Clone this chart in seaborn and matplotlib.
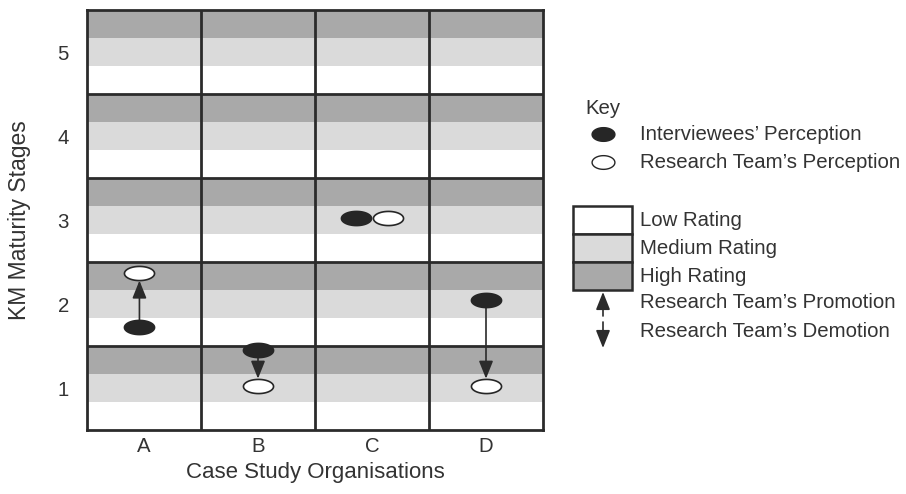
import numpy as np
import pandas as pd
import matplotlib
matplotlib.use("Agg")
import matplotlib.pyplot as plt
from matplotlib.path import Path
from matplotlib.patches import Rectangle
import seaborn as sns

# ---- data ----
organisations = ["A", "B", "C", "D"]
stages = [1, 2, 3, 4, 5]
interviewee_stage = [1.73, 1.45, 3.02, 2.05]
research_stage = [2.37, 1.02, 3.02, 1.02]
rating_levels = ["Low Rating", "Medium Rating", "High Rating"]
rating_colors = ["#ffffff", "#dadada", "#a9a9a9"]

sns.set_theme(style="white")
plt.rcParams["font.family"] = ["Liberation Sans", "DejaVu Sans"]

LINE = "#2b2b2b"
TXT = "#333333"
FS = 14.7

# ellipse marker (wide oval)
t = np.linspace(0, 2 * np.pi, 60)
oval = Path(np.column_stack([np.cos(t), 0.47 * np.sin(t)]), closed=True)
oval_key = Path(np.column_stack([np.cos(t), 0.6 * np.sin(t)]), closed=True)

fig = plt.figure(figsize=(9.06, 4.94), dpi=100)
ax = fig.add_axes([87 / 906, 64 / 494, 456 / 906, 420 / 494])

# background rating bands for every stage
for s in stages:
    for i, col in enumerate(rating_colors):
        lo = s - 0.5 + i / 3
        ax.axhspan(lo, lo + 1 / 3, color=col, lw=0, zorder=0)

# grid lines between stages and organisations
for s in stages[:-1]:
    ax.axhline(s + 0.5, color=LINE, lw=2, zorder=1)
for k in range(len(organisations) - 1):
    ax.axvline(k + 0.5, color=LINE, lw=2, zorder=1)

# point positions (side by side when both ratings agree)
xpos = np.arange(len(organisations), dtype=float)
same = np.isclose(interviewee_stage, research_stage)
x_int = xpos - np.where(same, 0.14, 0.04 * (xpos == 0))
x_res = xpos + np.where(same, 0.14, -0.04 * (xpos == 0))

df = pd.DataFrame({
    "org": organisations,
    "x_int": x_int, "x_res": x_res,
    "interviewee": interviewee_stage, "research": research_stage,
})

# arrows showing promotion / demotion
for _, r in df[~same].iterrows():
    ax.annotate("", xy=(r.x_res, r.research), xytext=(r.x_int, r.interviewee),
                arrowprops=dict(arrowstyle="-|>,head_width=0.36,head_length=0.9",
                                color=LINE, lw=1.2, shrinkA=4.5, shrinkB=5.5),
                zorder=3)

sns.scatterplot(data=df, x="x_int", y="interviewee", marker=oval, s=470,
                color="#262626", edgecolor="#262626", linewidth=1.2, ax=ax, zorder=4)
sns.scatterplot(data=df, x="x_res", y="research", marker=oval, s=470,
                color="white", edgecolor="#262626", linewidth=1.2, ax=ax, zorder=4)

ax.set_xlim(-0.5, len(organisations) - 0.5)
ax.set_ylim(0.5, 5.5)
ax.set_xticks(xpos)
ax.set_xticklabels(organisations)
ax.set_yticks(stages)
ax.tick_params(length=0, labelsize=FS, colors=TXT)
ax.tick_params(axis="x", pad=5)
ax.tick_params(axis="y", pad=13)
ax.set_xlabel("Case Study Organisations", fontsize=16, color=TXT, labelpad=4)
ax.set_ylabel("KM Maturity Stages", fontsize=16.5, color=TXT, labelpad=19)
for sp in ax.spines.values():
    sp.set_visible(True)
    sp.set_color(LINE)
    sp.set_linewidth(2)

# ---- key drawn in a pixel-coordinate axes ----
kx = fig.add_axes([560 / 906, 0, 346 / 906, 1])
kx.set_xlim(560, 906)
kx.set_ylim(494, 0)
kx.axis("off")

kx.text(585, 108, "Key", fontsize=FS, color=TXT, va="center")
kx.scatter([603], [134], marker=oval_key, s=270, color="#262626",
           edgecolor="#262626", lw=1.0)
kx.scatter([603], [162], marker=oval_key, s=270, color="white",
           edgecolor="#262626", lw=1.0)
kx.text(640, 134, "Interviewees\u2019 Perception", fontsize=FS, color=TXT, va="center")
kx.text(640, 162, "Research Team\u2019s Perception", fontsize=FS, color=TXT, va="center")

for i, (lab, col) in enumerate(zip(rating_levels, rating_colors)):
    y0 = 206 + 28 * i
    kx.add_patch(Rectangle((573, y0), 59, 28, facecolor=col, edgecolor=LINE, lw=1.8))
    kx.text(640, y0 + 14, lab, fontsize=FS, color=TXT, va="center")

kx.annotate("", xy=(603, 292), xytext=(603, 316),
            arrowprops=dict(arrowstyle="-|>,head_width=0.36,head_length=0.9",
                            color=LINE, lw=1.2, shrinkA=0, shrinkB=0))
kx.annotate("", xy=(603, 348), xytext=(603, 322),
            arrowprops=dict(arrowstyle="-|>,head_width=0.36,head_length=0.9",
                            color=LINE, lw=1.2, shrinkA=0, shrinkB=0))
kx.text(640, 302, "Research Team\u2019s Promotion", fontsize=FS, color=TXT, va="center")
kx.text(640, 331, "Research Team\u2019s Demotion", fontsize=FS, color=TXT, va="center")

fig.savefig("out.png", dpi=100)
